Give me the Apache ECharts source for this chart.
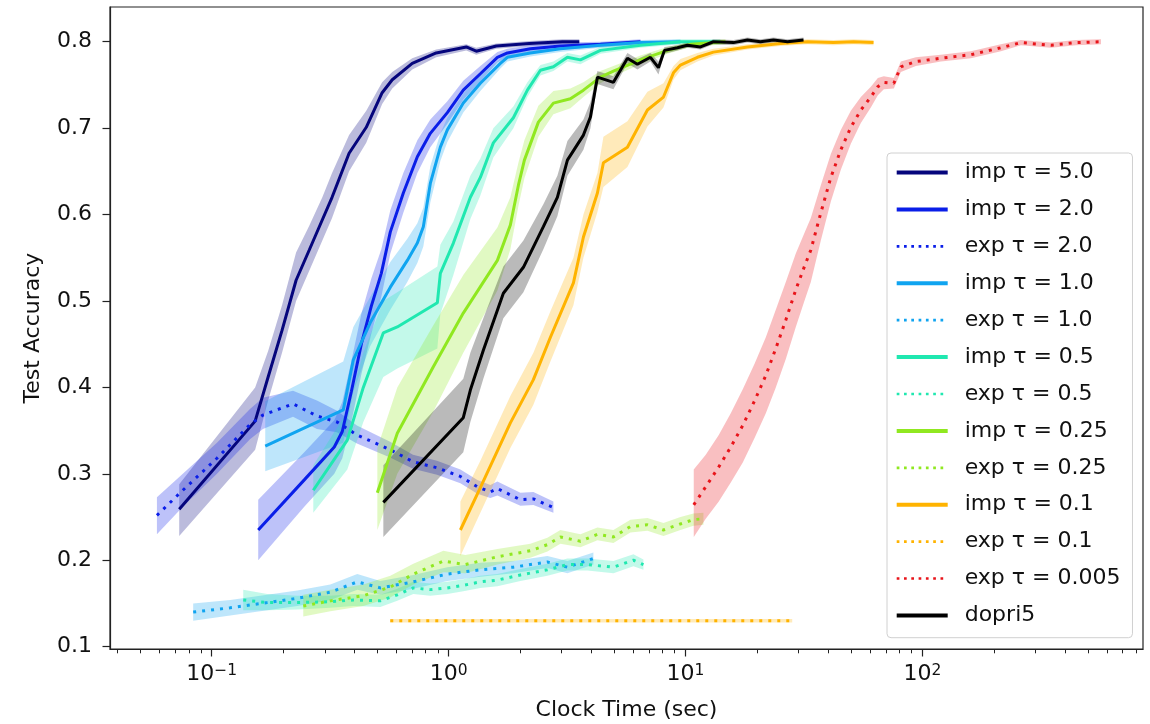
<!DOCTYPE html>
<html>
<head>
  <meta charset="utf-8">
  <title>Test accuracy vs clock time</title>
  <script src="https://cdn.jsdelivr.net/npm/echarts@6/dist/echarts.min.js"></script>
  <style>
    html, body { margin: 0; padding: 0; background: #fff; }
  </style>
</head>
<body>
<div id="main" style="width: 1150px;height:724px;"></div>
<script type="text/javascript">
  // values: time (sec), accuracy, band low / high
  var imp50_t  = [0.0729, 0.1525, 0.173, 0.198, 0.227, 0.258, 0.293, 0.322, 0.380, 0.449, 0.524, 0.578, 0.702, 0.886, 1.187, 1.308, 1.589, 2.19, 3.02, 3.56];
  var imp50_y  = [0.259, 0.361, 0.412, 0.466, 0.524, 0.559, 0.594, 0.620, 0.671, 0.701, 0.741, 0.756, 0.775, 0.787, 0.794, 0.789, 0.795, 0.798, 0.800, 0.800];
  var imp50_lo = [0.228, 0.328, 0.385, 0.440, 0.500, 0.535, 0.570, 0.596, 0.650, 0.683, 0.728, 0.746, 0.768, 0.782, 0.790, 0.785, 0.792, 0.795, 0.797, 0.797];
  var imp50_hi = [0.288, 0.400, 0.442, 0.495, 0.556, 0.587, 0.620, 0.648, 0.692, 0.720, 0.753, 0.765, 0.781, 0.791, 0.797, 0.793, 0.798, 0.801, 0.803, 0.803];

  var imp20_t  = [0.1571, 0.2458, 0.3291, 0.3557, 0.3883, 0.4279, 0.4716, 0.5197, 0.5673, 0.6437, 0.7377, 0.8369, 0.9874, 1.153, 1.361, 1.606, 1.770, 2.213, 2.963, 4.372, 6.451];
  var imp20_y  = [0.235, 0.293, 0.331, 0.349, 0.395, 0.450, 0.494, 0.532, 0.580, 0.625, 0.667, 0.694, 0.718, 0.744, 0.763, 0.782, 0.787, 0.792, 0.795, 0.797, 0.800];
  var imp20_lo = [0.200, 0.262, 0.300, 0.318, 0.360, 0.415, 0.462, 0.505, 0.555, 0.602, 0.648, 0.678, 0.705, 0.733, 0.754, 0.776, 0.782, 0.788, 0.791, 0.794, 0.797];
  var imp20_hi = [0.270, 0.325, 0.362, 0.383, 0.430, 0.485, 0.526, 0.560, 0.605, 0.648, 0.686, 0.710, 0.731, 0.755, 0.772, 0.788, 0.792, 0.796, 0.799, 0.800, 0.803];

  var exp20_t  = [0.0587, 0.0755, 0.1052, 0.145, 0.1645, 0.2203, 0.2781, 0.338, 0.410, 0.566, 0.707, 0.893, 1.121, 1.322, 1.500, 1.606, 2.009, 2.279, 2.768];
  var exp20_y  = [0.252, 0.281, 0.318, 0.357, 0.368, 0.381, 0.367, 0.360, 0.345, 0.328, 0.314, 0.307, 0.297, 0.285, 0.279, 0.283, 0.270, 0.271, 0.261];
  var exp20_lo = [0.230, 0.262, 0.300, 0.340, 0.352, 0.366, 0.352, 0.348, 0.335, 0.319, 0.306, 0.299, 0.289, 0.277, 0.272, 0.275, 0.263, 0.264, 0.255];
  var exp20_hi = [0.273, 0.300, 0.336, 0.375, 0.388, 0.396, 0.385, 0.373, 0.356, 0.337, 0.322, 0.315, 0.305, 0.293, 0.287, 0.291, 0.278, 0.279, 0.268];

  var imp10_t  = [0.1682, 0.3591, 0.396, 0.467, 0.5673, 0.6692, 0.7377, 0.7819, 0.8369, 0.9225, 0.9874, 1.153, 1.361, 1.653, 1.770, 2.213, 2.963, 4.372, 6.451, 9.515];
  var imp10_y  = [0.332, 0.374, 0.432, 0.475, 0.516, 0.547, 0.567, 0.586, 0.636, 0.678, 0.698, 0.729, 0.752, 0.775, 0.782, 0.787, 0.792, 0.796, 0.799, 0.800];
  var imp10_lo = [0.303, 0.336, 0.395, 0.448, 0.490, 0.522, 0.544, 0.563, 0.614, 0.662, 0.684, 0.718, 0.743, 0.769, 0.777, 0.783, 0.788, 0.793, 0.796, 0.797];
  var imp10_hi = [0.384, 0.430, 0.470, 0.505, 0.545, 0.572, 0.590, 0.608, 0.656, 0.694, 0.712, 0.740, 0.761, 0.781, 0.787, 0.791, 0.796, 0.799, 0.802, 0.803];

  var exp10_t  = [0.0835, 0.1197, 0.1715, 0.2297, 0.3166, 0.4115, 0.5147, 0.7094, 0.9874, 1.361, 1.876, 2.611, 3.172, 4.083];
  var exp10_y  = [0.140, 0.145, 0.151, 0.156, 0.163, 0.175, 0.168, 0.175, 0.184, 0.189, 0.192, 0.198, 0.192, 0.202];
  var exp10_lo = [0.130, 0.136, 0.142, 0.147, 0.154, 0.166, 0.160, 0.167, 0.176, 0.181, 0.185, 0.191, 0.185, 0.195];
  var exp10_hi = [0.150, 0.154, 0.160, 0.165, 0.172, 0.184, 0.176, 0.183, 0.192, 0.197, 0.199, 0.205, 0.199, 0.209];

  var imp05_t  = [0.2683, 0.3734, 0.4363, 0.5298, 0.6071, 0.896, 0.9225, 1.047, 1.235, 1.361, 1.544, 1.876, 2.150, 2.440, 2.768, 3.172, 3.600, 4.372, 6.451, 9.515, 14.03];
  var imp05_y  = [0.281, 0.339, 0.400, 0.463, 0.470, 0.498, 0.532, 0.567, 0.620, 0.643, 0.683, 0.712, 0.744, 0.767, 0.771, 0.782, 0.779, 0.790, 0.796, 0.800, 0.800];
  var imp05_lo = [0.255, 0.305, 0.360, 0.412, 0.422, 0.445, 0.485, 0.530, 0.595, 0.622, 0.666, 0.700, 0.736, 0.761, 0.766, 0.777, 0.774, 0.786, 0.793, 0.797, 0.797];
  var imp05_hi = [0.310, 0.372, 0.440, 0.500, 0.510, 0.540, 0.565, 0.592, 0.645, 0.665, 0.700, 0.725, 0.753, 0.773, 0.777, 0.787, 0.784, 0.794, 0.799, 0.803, 0.803];

  var exp05_t  = [0.1358, 0.1715, 0.2297, 0.3166, 0.396, 0.5147, 0.6071, 0.7094, 0.8369, 0.9874, 1.153, 1.361, 1.606, 2.009, 2.611, 3.172, 3.852, 4.961, 6.025, 6.640];
  var exp05_y  = [0.154, 0.151, 0.151, 0.152, 0.154, 0.153, 0.160, 0.168, 0.166, 0.168, 0.171, 0.175, 0.177, 0.183, 0.189, 0.195, 0.195, 0.192, 0.200, 0.195];
  var exp05_lo = [0.142, 0.142, 0.143, 0.145, 0.147, 0.146, 0.153, 0.161, 0.159, 0.161, 0.164, 0.168, 0.170, 0.176, 0.182, 0.188, 0.188, 0.185, 0.193, 0.189];
  var exp05_hi = [0.166, 0.161, 0.159, 0.159, 0.161, 0.160, 0.167, 0.175, 0.173, 0.175, 0.178, 0.182, 0.184, 0.190, 0.196, 0.202, 0.202, 0.199, 0.207, 0.201];

  var imp025_t  = [0.500, 0.6071, 0.8618, 1.153, 1.606, 1.822, 1.970, 2.088, 2.392, 2.768, 3.266, 3.706, 4.372, 4.961, 6.451, 8.387, 10.49, 14.74];
  var imp025_y  = [0.278, 0.347, 0.424, 0.486, 0.547, 0.588, 0.634, 0.663, 0.707, 0.729, 0.734, 0.744, 0.759, 0.766, 0.779, 0.790, 0.797, 0.800];
  var imp025_lo = [0.235, 0.300, 0.372, 0.440, 0.512, 0.560, 0.610, 0.642, 0.690, 0.716, 0.723, 0.736, 0.752, 0.760, 0.774, 0.786, 0.794, 0.797];
  var imp025_hi = [0.330, 0.400, 0.472, 0.530, 0.585, 0.620, 0.660, 0.686, 0.726, 0.743, 0.746, 0.753, 0.766, 0.772, 0.784, 0.794, 0.800, 0.803];

  var exp025_t  = [0.2434, 0.3166, 0.4363, 0.5673, 0.7094, 0.9497, 1.176, 1.606, 2.213, 2.611, 2.963, 3.600, 4.246, 4.961, 5.851, 6.904, 8.068, 9.515, 10.80, 11.90];
  var exp025_y  = [0.147, 0.153, 0.159, 0.169, 0.184, 0.199, 0.195, 0.204, 0.211, 0.218, 0.227, 0.222, 0.230, 0.227, 0.239, 0.241, 0.235, 0.242, 0.247, 0.248];
  var exp025_lo = [0.135, 0.141, 0.147, 0.157, 0.172, 0.186, 0.185, 0.195, 0.203, 0.210, 0.219, 0.215, 0.223, 0.220, 0.232, 0.234, 0.228, 0.235, 0.240, 0.241];
  var exp025_hi = [0.160, 0.166, 0.172, 0.182, 0.196, 0.211, 0.206, 0.213, 0.219, 0.226, 0.235, 0.230, 0.238, 0.235, 0.247, 0.249, 0.243, 0.250, 0.254, 0.255];

  var imp01_t  = [1.121, 1.361, 1.822, 2.279, 2.689, 3.363, 3.706, 4.246, 4.501, 5.684, 6.904, 8.068, 8.890, 9.515, 11.22, 13.11, 18.25, 25.16, 32.71, 42.12, 51.17, 62.16];
  var imp01_y  = [0.235, 0.284, 0.359, 0.409, 0.458, 0.521, 0.574, 0.625, 0.660, 0.678, 0.721, 0.736, 0.764, 0.773, 0.782, 0.788, 0.794, 0.798, 0.800, 0.799, 0.800, 0.799];
  var imp01_lo = [0.205, 0.255, 0.330, 0.380, 0.430, 0.495, 0.550, 0.603, 0.632, 0.655, 0.702, 0.724, 0.756, 0.767, 0.777, 0.784, 0.791, 0.795, 0.797, 0.796, 0.797, 0.796];
  var imp01_hi = [0.268, 0.315, 0.390, 0.440, 0.488, 0.550, 0.600, 0.648, 0.690, 0.708, 0.742, 0.752, 0.772, 0.780, 0.787, 0.792, 0.797, 0.801, 0.803, 0.802, 0.803, 0.802];

  var exp01_t  = [0.567, 1.0, 2.0, 4.0, 8.0, 16.0, 28.2];
  var exp01_y  = [0.130, 0.130, 0.130, 0.130, 0.130, 0.130, 0.130];
  var exp01_lo = [0.128, 0.128, 0.128, 0.128, 0.128, 0.128, 0.128];
  var exp01_hi = [0.132, 0.132, 0.132, 0.132, 0.132, 0.132, 0.132];

  var exp0005_t  = [10.83, 12.17, 13.81, 15.52, 17.44, 19.60, 21.82, 24.04, 26.50, 29.20, 31.56, 33.79, 37.24, 41.05, 45.23, 49.85, 54.95, 60.54, 64.82, 68.71, 75.72, 81.05, 93.78, 119.6, 160.1, 214.4, 260.3, 348.5, 444.5, 566.8];
  var exp0005_y  = [0.264, 0.285, 0.308, 0.331, 0.356, 0.385, 0.414, 0.445, 0.478, 0.513, 0.538, 0.559, 0.602, 0.643, 0.675, 0.701, 0.721, 0.736, 0.748, 0.753, 0.752, 0.771, 0.777, 0.781, 0.785, 0.793, 0.799, 0.796, 0.799, 0.800];
  var exp0005_lo = [0.227, 0.248, 0.268, 0.290, 0.313, 0.342, 0.370, 0.400, 0.433, 0.470, 0.498, 0.522, 0.570, 0.615, 0.652, 0.682, 0.706, 0.724, 0.738, 0.745, 0.746, 0.765, 0.772, 0.777, 0.781, 0.789, 0.796, 0.793, 0.796, 0.797];
  var exp0005_hi = [0.305, 0.322, 0.345, 0.370, 0.398, 0.428, 0.458, 0.490, 0.522, 0.555, 0.577, 0.596, 0.634, 0.670, 0.698, 0.720, 0.736, 0.748, 0.758, 0.760, 0.758, 0.777, 0.782, 0.785, 0.789, 0.797, 0.802, 0.799, 0.802, 0.803];

  var dopri5_t  = [0.530, 1.153, 1.235, 1.401, 1.702, 2.068, 2.511, 2.877, 3.172, 3.706, 3.967, 4.246, 4.961, 5.684, 6.264, 7.108, 7.685, 8.145, 9.241, 10.18, 11.56, 13.11, 15.93, 18.25, 20.71, 23.50, 26.93, 31.47];
  var dopri5_y  = [0.267, 0.365, 0.397, 0.443, 0.509, 0.539, 0.586, 0.620, 0.663, 0.692, 0.713, 0.759, 0.753, 0.781, 0.774, 0.782, 0.770, 0.790, 0.793, 0.796, 0.794, 0.800, 0.799, 0.802, 0.800, 0.802, 0.800, 0.802];
  var dopri5_lo = [0.227, 0.325, 0.360, 0.410, 0.480, 0.510, 0.560, 0.598, 0.645, 0.675, 0.700, 0.751, 0.745, 0.775, 0.768, 0.777, 0.762, 0.786, 0.790, 0.793, 0.791, 0.797, 0.796, 0.799, 0.797, 0.799, 0.797, 0.799];
  var dopri5_hi = [0.310, 0.410, 0.440, 0.480, 0.540, 0.570, 0.612, 0.645, 0.685, 0.710, 0.730, 0.766, 0.760, 0.787, 0.780, 0.787, 0.777, 0.794, 0.796, 0.799, 0.797, 0.803, 0.802, 0.805, 0.803, 0.805, 0.803, 0.805];

  // tick positions (log10 of seconds) and y ticks
  var xMajor = [-1, 0, 1, 2];
  var xMinor = [];
  [-2, -1, 0, 1, 2].forEach(function (e) {
    for (var k = 2; k <= 9; k++) xMinor.push(e + Math.log10(k));
  });
  var yTicks = [0.1, 0.2, 0.3, 0.4, 0.5, 0.6, 0.7, 0.8];

  var xMin = 0.0372, xMax = 853;
  var font = 'DejaVu Sans';

  // legend order
  var curves = [
    {name: 'imp τ = 5.0',   t: imp50_t,   y: imp50_y,   lo: imp50_lo,   hi: imp50_hi,   color: '#05057c', dot: false},
    {name: 'imp τ = 2.0',   t: imp20_t,   y: imp20_y,   lo: imp20_lo,   hi: imp20_hi,   color: '#0a1ee8', dot: false},
    {name: 'exp τ = 2.0',   t: exp20_t,   y: exp20_y,   lo: exp20_lo,   hi: exp20_hi,   color: '#0a1ee8', dot: true},
    {name: 'imp τ = 1.0',   t: imp10_t,   y: imp10_y,   lo: imp10_lo,   hi: imp10_hi,   color: '#10a4f0', dot: false},
    {name: 'exp τ = 1.0',   t: exp10_t,   y: exp10_y,   lo: exp10_lo,   hi: exp10_hi,   color: '#10a4f0', dot: true},
    {name: 'imp τ = 0.5',   t: imp05_t,   y: imp05_y,   lo: imp05_lo,   hi: imp05_hi,   color: '#20e8b0', dot: false},
    {name: 'exp τ = 0.5',   t: exp05_t,   y: exp05_y,   lo: exp05_lo,   hi: exp05_hi,   color: '#20e8b0', dot: true},
    {name: 'imp τ = 0.25',  t: imp025_t,  y: imp025_y,  lo: imp025_lo,  hi: imp025_hi,  color: '#90e820', dot: false},
    {name: 'exp τ = 0.25',  t: exp025_t,  y: exp025_y,  lo: exp025_lo,  hi: exp025_hi,  color: '#90e820', dot: true},
    {name: 'imp τ = 0.1',   t: imp01_t,   y: imp01_y,   lo: imp01_lo,   hi: imp01_hi,   color: '#ffb300', dot: false},
    {name: 'exp τ = 0.1',   t: exp01_t,   y: exp01_y,   lo: exp01_lo,   hi: exp01_hi,   color: '#ffb300', dot: true},
    {name: 'exp τ = 0.005', t: exp0005_t, y: exp0005_y, lo: exp0005_lo, hi: exp0005_hi, color: '#e8141a', dot: true},
    {name: 'dopri5',        t: dopri5_t,  y: dopri5_y,  lo: dopri5_lo,  hi: dopri5_hi,  color: '#000000', dot: false}
  ];

  var myChart = echarts.init(document.getElementById('main'));

  var series = [];
  // shaded bands, one polygon per curve
  series.push({
    type: 'custom',
    xAxisIndex: 0,
    yAxisIndex: 0,
    silent: true,
    clip: true,
    z: 1,
    data: curves.map(function (c) { return [c.t[0], c.y[0]]; }),
    renderItem: function (params, api) {
      var c = curves[params.dataIndex];
      var pts = [];
      for (var i = 0; i < c.t.length; i++) pts.push(api.coord([c.t[i], c.hi[i]]));
      for (var j = c.t.length - 1; j >= 0; j--) pts.push(api.coord([c.t[j], c.lo[j]]));
      return {
        type: 'polygon',
        shape: {points: pts},
        style: {fill: c.color, opacity: 0.27}
      };
    }
  });
  curves.forEach(function (c) {
    series.push({
      name: c.name,
      type: 'line',
      xAxisIndex: 0,
      yAxisIndex: 0,
      z: 3,
      symbol: 'none',
      showSymbol: false,
      silent: true,
      data: c.t.map(function (x, i) { return [x, c.y[i]]; }),
      itemStyle: {color: c.color},
      lineStyle: {
        color: c.color,
        width: 3,
        type: c.dot ? [3, 6] : 'solid',
        cap: 'butt'
      }
    });
  });

  var option = {
    animation: false,
    backgroundColor: '#fff',
    grid: {
      left: 110, right: 7, top: 7, bottom: 75,
      show: true, borderColor: '#222', borderWidth: 1.2,
      containLabel: false, outerBoundsMode: 'none'
    },
    legend: {
      data: curves.map(function (c) {
        return {
          name: c.name,
          lineStyle: c.dot
            ? {color: c.color, width: 2.7, type: [2.7, 4.6], cap: 'butt'}
            : {color: c.color, width: 4, type: 'solid', cap: 'butt'}
        };
      }),
      orient: 'vertical',
      left: 887,
      top: 153,
      itemWidth: 51,
      itemHeight: 26,
      itemGap: 10.9,
      padding: [6.6, 12, 9.3, 7.7],
      backgroundColor: 'rgba(255,255,255,0.8)',
      borderColor: '#d0d0d0',
      borderWidth: 1,
      borderRadius: 4,
      selectedMode: false,
      z: 10,
      itemStyle: {opacity: 0},
      textStyle: {fontFamily: font, fontSize: 22, color: '#111', lineHeight: 26, padding: [0, 0, 0, 12]}
    },
    xAxis: [
      {
        type: 'log', min: xMin, max: xMax, gridIndex: 0, show: false,
        axisLine: {onZero: false}
      },
      {
        type: 'value', min: Math.log10(xMin), max: Math.log10(xMax), gridIndex: 0,
        position: 'bottom',
        name: 'Clock Time (sec)', nameLocation: 'middle', nameGap: 50,
        nameTextStyle: {fontFamily: font, fontSize: 22, color: '#111'},
        axisLine: {show: true, onZero: false, lineStyle: {color: '#222', width: 1.2}},
        axisTick: {show: true, customValues: xMajor, length: 7.5, lineStyle: {color: '#222', width: 1.2}},
        axisLabel: {
          show: true, customValues: xMajor, margin: 14,
          formatter: function (v) {
            var e = Math.round(v);
            return '{b|10}{s|' + (e < 0 ? '\u2212' + (-e) : e) + '}';
          },
          rich: {
            b: {fontFamily: font, fontSize: 22, color: '#111', lineHeight: 26, verticalAlign: 'top'},
            s: {fontFamily: font, fontSize: 15.5, color: '#111', lineHeight: 14, verticalAlign: 'top'}
          }
        },
        splitLine: {show: false}
      },
      {
        type: 'value', min: Math.log10(xMin), max: Math.log10(xMax), gridIndex: 0,
        position: 'bottom',
        axisLine: {show: false, onZero: false},
        axisTick: {show: true, customValues: xMinor, length: 4.3, lineStyle: {color: '#222', width: 1}},
        axisLabel: {show: false},
        splitLine: {show: false}
      }
    ],
    yAxis: [
      {
        type: 'value', min: 0.0973, max: 0.8402, gridIndex: 0,
        position: 'left',
        name: 'Test Accuracy', nameLocation: 'middle', nameRotate: 90, nameGap: 66,
        nameTextStyle: {fontFamily: font, fontSize: 22, color: '#111'},
        axisLine: {show: true, onZero: false, lineStyle: {color: '#222', width: 1.2}},
        axisTick: {show: true, customValues: yTicks, length: 7.5, lineStyle: {color: '#222', width: 1.2}},
        axisLabel: {
          show: true, customValues: yTicks, margin: 18,
          fontFamily: font, fontSize: 22, color: '#111',
          formatter: function (v) { return v.toFixed(1); }
        },
        splitLine: {show: false}
      }
    ],
    series: series
  };

  myChart.setOption(option);
</script>
</body>
</html>
